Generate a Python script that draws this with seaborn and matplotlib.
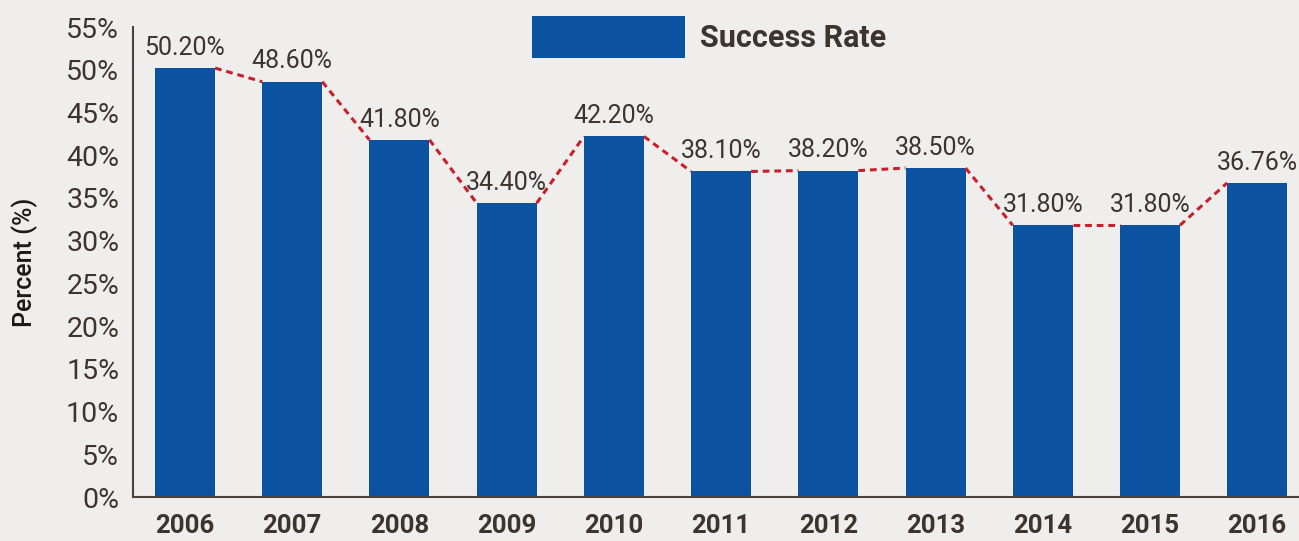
import pandas as pd
import matplotlib.pyplot as plt
import seaborn as sns

years = ["2006", "2007", "2008", "2009", "2010", "2011", "2012", "2013", "2014", "2015", "2016"]
success_rate = [50.20, 48.60, 41.80, 34.40, 42.20, 38.10, 38.20, 38.50, 31.80, 31.80, 36.76]
value_labels = ["50.20%", "48.60%", "41.80%", "34.40%", "42.20%", "38.10%",
                "38.20%", "38.50%", "31.80%", "31.80%", "36.76%"]
y_ticks = [0, 5, 10, 15, 20, 25, 30, 35, 40, 45, 50, 55]

BG = "#efeeec"
BAR = "#0b53a0"
TXT = "#3b3430"
LINE = "#c8202a"
BAR_W = 0.56

df = pd.DataFrame({"year": years, "rate": success_rate})

sns.set_style("white")
plt.rcParams["font.family"] = ["Roboto", "DejaVu Sans"]

fig = plt.figure(figsize=(12.99, 5.41), dpi=100, facecolor=BG)
ax = fig.add_axes([0.1024, 0.0813, 0.8976, 0.8687])
ax.set_facecolor(BG)

sns.barplot(data=df, x="year", y="rate", color=BAR, width=BAR_W, saturation=1,
            linewidth=0, ax=ax, label="Success Rate")

# dashed connector from right top corner of a bar to left top corner of the next
for i in range(len(success_rate) - 1):
    ax.plot([i + BAR_W / 2, i + 1 - BAR_W / 2], [success_rate[i], success_rate[i + 1]],
            color=LINE, lw=2.2, ls=(0, (2.2, 1.6)), zorder=3)

ax.bar_label(ax.containers[0], labels=value_labels, padding=6, fontsize=18, color=TXT)

ax.set_ylim(0, 55)
ax.set_xlim(-0.485, 10.39)
ax.set_yticks(y_ticks)
ax.set_yticklabels([f"{t}%" for t in y_ticks], fontsize=20.5, color=TXT)
ax.set_xticks(range(len(years)))
ax.set_xticklabels(years, fontsize=18.5, fontweight="bold", color=TXT)
ax.tick_params(axis="y", length=6, width=1.5, color="#4a4440", pad=4)
ax.tick_params(axis="x", length=9, width=1.5, color="#4a4440", pad=3)
ax.set_xlabel("")
ax.set_ylabel("Percent (%)", fontsize=18, fontweight="medium", color="#1a1a1a", labelpad=20)

for s in ["top", "right"]:
    ax.spines[s].set_visible(False)
for s in ["left", "bottom"]:
    ax.spines[s].set_color("#4a4440")
    ax.spines[s].set_linewidth(1.5)

ax.legend(loc="upper left", bbox_to_anchor=(532 / 1299, 1 - 16 / 541), bbox_transform=fig.transFigure,
          frameon=False, handlelength=5.0, handleheight=1.75, handletextpad=0.5, borderpad=0,
          borderaxespad=0, prop={"size": 22, "weight": "bold"}, labelcolor=TXT)

fig.savefig("out.png", dpi=100, facecolor=BG)
